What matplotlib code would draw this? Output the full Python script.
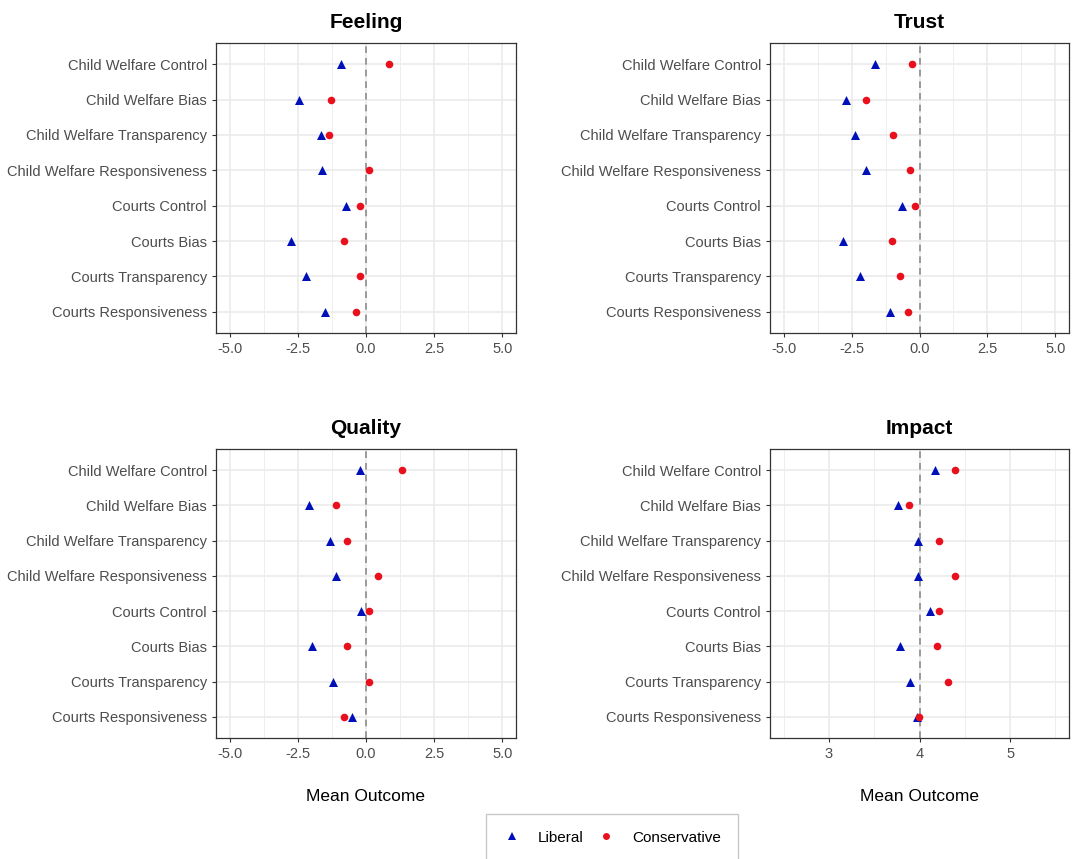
import matplotlib
matplotlib.use("Agg")
import matplotlib.pyplot as plt
from matplotlib.lines import Line2D

plt.rcParams["font.family"] = ["Liberation Sans", "DejaVu Sans"]

categories = [
    "Child Welfare Control",
    "Child Welfare Bias",
    "Child Welfare Transparency",
    "Child Welfare Responsiveness",
    "Courts Control",
    "Courts Bias",
    "Courts Transparency",
    "Courts Responsiveness",
]

feeling_lib = [-0.90, -2.44, -1.66, -1.62, -0.72, -2.76, -2.20, -1.51]
feeling_con = [0.86, -1.30, -1.35, 0.11, -0.21, -0.80, -0.22, -0.36]

trust_lib = [-1.64, -2.69, -2.39, -1.96, -0.65, -2.81, -2.18, -1.07]
trust_con = [-0.27, -1.96, -0.98, -0.34, -0.17, -1.03, -0.72, -0.43]

quality_lib = [-0.22, -2.08, -1.31, -1.09, -0.18, -1.97, -1.20, -0.52]
quality_con = [1.31, -1.09, -0.70, 0.43, 0.12, -0.70, 0.12, -0.81]

impact_lib = [4.17, 3.76, 3.98, 3.98, 4.12, 3.79, 3.90, 3.97]
impact_con = [4.39, 3.88, 4.21, 4.39, 4.22, 4.19, 4.32, 3.99]

BLUE = "#0010B8"
RED = "#E8101C"
W, H = 1075, 859

fig = plt.figure(figsize=(W / 100, H / 100), dpi=100)


def px_axes(left, top, right, bottom):
    return fig.add_axes([left / W, 1 - bottom / H, (right - left) / W, (bottom - top) / H])


panels = [
    ("Feeling", feeling_lib, feeling_con, (216, 43, 516, 333), 0.0,
     [-5, -2.5, 0, 2.5, 5], ["-5.0", "-2.5", "0.0", "2.5", "5.0"], [-3.75, -1.25, 1.25, 3.75], (-5.5, 5.5), False),
    ("Trust", trust_lib, trust_con, (770, 43, 1069, 333), 0.0,
     [-5, -2.5, 0, 2.5, 5], ["-5.0", "-2.5", "0.0", "2.5", "5.0"], [-3.75, -1.25, 1.25, 3.75], (-5.5, 5.5), False),
    ("Quality", quality_lib, quality_con, (216, 449, 516, 738), 0.0,
     [-5, -2.5, 0, 2.5, 5], ["-5.0", "-2.5", "0.0", "2.5", "5.0"], [-3.75, -1.25, 1.25, 3.75], (-5.5, 5.5), True),
    ("Impact", impact_lib, impact_con, (770, 449, 1069, 738), 4.0,
     [3, 4, 5], ["3", "4", "5"], [2.5, 3.5, 4.5, 5.5], (2.35, 5.65), True),
]

ypos = list(range(len(categories), 0, -1))

for title, lib, con, box, ref, ticks, ticklabels, minor, xlim, show_xlabel in panels:
    ax = px_axes(*box)
    ax.set_xlim(*xlim)
    ax.set_ylim(0.4, len(categories) + 0.6)
    for m in minor:
        ax.axvline(m, color="#EBEBEB", lw=0.6, zorder=0)
    for t in ticks:
        ax.axvline(t, color="#EBEBEB", lw=1.2, zorder=0)
    for y in ypos:
        ax.axhline(y, color="#EBEBEB", lw=1.2, zorder=0)
    ax.axvline(ref, color="#8C8C8C", lw=1.2, ls=(0, (4, 3)), zorder=1)
    ax.scatter(lib, ypos, marker="^", s=42, color=BLUE, zorder=3, linewidths=0)
    ax.scatter(con, ypos, marker="o", s=30, color=RED, zorder=3, linewidths=0)
    ax.set_xticks(ticks)
    ax.set_xticklabels(ticklabels)
    ax.set_yticks(ypos)
    ax.set_yticklabels(categories)
    ax.tick_params(axis="both", colors="#333333", labelcolor="#4D4D4D", labelsize=10.5, length=3, width=0.8)
    for s in ax.spines.values():
        s.set_color("#333333")
        s.set_linewidth(0.9)
    ax.set_title(title, fontsize=15, fontweight="bold", pad=11)
    if show_xlabel:
        ax.set_xlabel("Mean Outcome", fontsize=12.5, labelpad=20)

handles = [
    Line2D([], [], marker="^", color=BLUE, ls="none", markersize=6, markeredgewidth=0, label="Liberal"),
    Line2D([], [], marker="o", color=RED, ls="none", markersize=5, markeredgewidth=0, label="Conservative"),
]
leg = fig.legend(handles=handles, loc="upper center", bbox_to_anchor=(612 / W, 1 - 814 / H),
                 ncol=2, fontsize=11, frameon=True, fancybox=False, borderpad=1.1,
                 handlelength=1.2, columnspacing=0.9, handletextpad=1.1, borderaxespad=0)
leg.get_frame().set_edgecolor("#BBBBBB")
leg.get_frame().set_linewidth(1.0)

fig.savefig("out.png", dpi=100)
